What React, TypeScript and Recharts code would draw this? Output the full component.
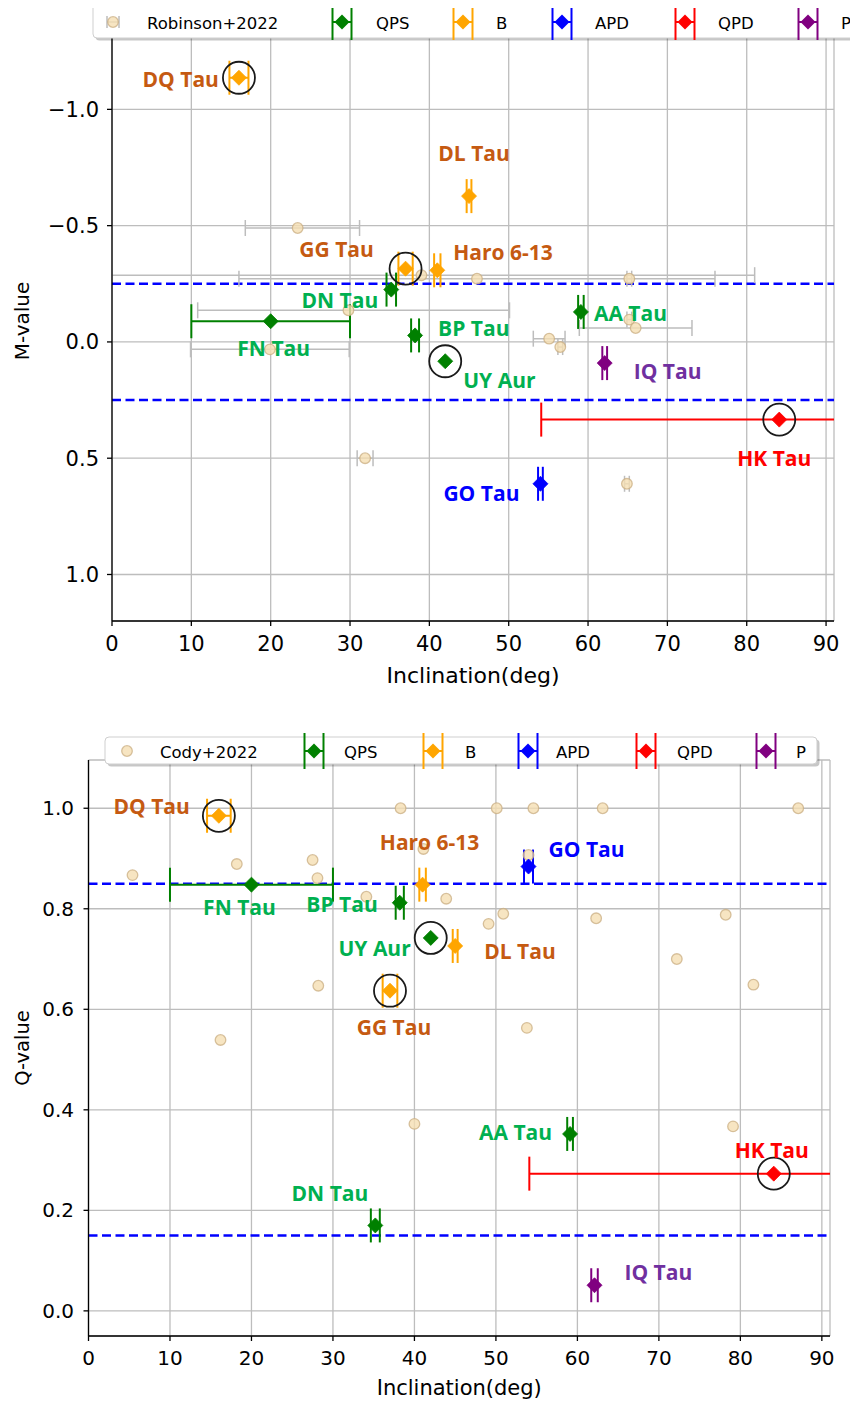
import React from 'react';
import { ScatterChart, Scatter, XAxis, YAxis, CartesianGrid, ReferenceLine, ErrorBar, Label } from 'recharts';

// ---------------- Data ----------------
const STARS = ['DQ Tau', 'DL Tau', 'GG Tau', 'Haro 6-13', 'DN Tau', 'FN Tau', 'BP Tau', 'UY Aur', 'AA Tau', 'IQ Tau', 'HK Tau', 'GO Tau'];
const STAR_CLASS = ['B', 'B', 'B', 'B', 'QPS', 'QPS', 'QPS', 'QPS', 'QPS', 'P', 'QPD', 'APD'];
const INCLINATION = [16.0, 45.0, 37.0, 41.0, 35.2, 20.0, 38.2, 42.0, 59.1, 62.1, 84.1, 54.0];
const INC_ERR_M = [1.2, 0.3, 0.9, 0.4, 0.6, 10, 0.5, null, 0.35, 0.3, 30, 0.3];
const INC_ERR_Q = [1.45, 0.3, 0.9, 0.4, 0.55, 10, 0.5, null, 0.35, 0.4, 30, 0.55];
const M_VALUE = [-1.136, -0.627, -0.315, -0.308, -0.225, -0.089, -0.028, 0.083, -0.129, 0.091, 0.334, 0.61];
const Q_VALUE = [0.985, 0.726, 0.637, 0.848, 0.17, 0.848, 0.812, 0.742, 0.352, 0.051, 0.273, 0.884];
const CIRCLED = ['DQ Tau', 'GG Tau', 'UY Aur', 'HK Tau'];

// Robinson+2022 (M-value sample)
const ROB_INC = [23.4, 39.0, 46.0, 65.2, 29.8, 19.9, 55.1, 56.5, 65.2, 66.0, 31.9, 64.9];
const ROB_M = [-0.49, -0.287, -0.272, -0.272, -0.136, 0.032, -0.014, 0.022, -0.096, -0.06, 0.5, 0.61];
const ROB_ERR_LO = [6.6, 42, 30, 0.3, 19.0, 10, 2, 0.3, 0.3, 7.1, 1, 0.3];
const ROB_ERR_HI = [7.8, 42, 30, 0.3, 20.3, 10, 2, 0.3, 0.3, 7.1, 1, 0.3];

// Cody+2022 (Q-value sample)
const CODY_INC = [5.4, 18.2, 27.5, 28.1, 34.1, 38.3, 41.1, 43.9, 28.2, 16.2, 50.1, 54.6, 63.1, 87.1, 49.1, 50.9, 62.3, 78.2, 72.2, 81.6, 53.8, 54.0, 40.0, 79.1];
const CODY_Q = [0.867, 0.889, 0.897, 0.861, 0.824, 1.0, 0.919, 0.82, 0.647, 0.539, 1.0, 1.0, 1.0, 1.0, 0.77, 0.79, 0.781, 0.788, 0.7, 0.649, 0.563, 0.907, 0.372, 0.367];

const CLASSES = ['QPS', 'B', 'APD', 'QPD', 'P'];
const X_TICKS = [0, 10, 20, 30, 40, 50, 60, 70, 80, 90];
const M_TICKS = [-1, -0.5, 0, 0.5, 1];
const Q_TICKS = [0, 0.2, 0.4, 0.6, 0.8, 1.0];
const M_THRESHOLDS = [-0.25, 0.25];
const Q_THRESHOLDS = [0.85, 0.15];

// ---------------- Styles / layout ----------------
const MARKER_COLORS: Record<string, string> = { QPS: '#008000', B: '#FFA500', APD: '#0000FF', QPD: '#FF0000', P: '#800080' };
const LABEL_COLORS: Record<string, string> = { QPS: '#00B050', B: '#C55A11', APD: '#0000FF', QPD: '#FF0000', P: '#7030A0' };
const FONT_AXIS = "'DejaVu Sans', sans-serif";
const FONT_ANN = "'Open Sans', sans-serif";

// label offsets (px) relative to each point: [dx, dy, anchor]
const LABEL_POS_M: Record<string, [number, number, string]> = {
  'DQ Tau': [-20, 1, 'end'], 'DL Tau': [5, -43, 'middle'], 'GG Tau': [-69, -20, 'middle'],
  'Haro 6-13': [16, -18, 'start'], 'DN Tau': [-13, 10, 'end'], 'FN Tau': [3, 27, 'middle'],
  'BP Tau': [23, -7, 'start'], 'UY Aur': [18, 19, 'start'], 'AA Tau': [13, 1, 'start'],
  'IQ Tau': [29, 8, 'start'], 'HK Tau': [-5, 38, 'middle'], 'GO Tau': [-21, 9, 'end'],
};
const LABEL_POS_Q: Record<string, [number, number, string]> = {
  'DQ Tau': [-29, -10, 'end'], 'DL Tau': [29, 5, 'start'], 'GG Tau': [4, 36, 'middle'],
  'Haro 6-13': [7, -43, 'middle'], 'DN Tau': [-7, -32, 'end'], 'FN Tau': [-12, 22, 'middle'],
  'BP Tau': [-22, 1, 'end'], 'UY Aur': [-20, 10, 'end'], 'AA Tau': [-18, -2, 'end'],
  'IQ Tau': [30, -13, 'start'], 'HK Tau': [-2, -24, 'middle'], 'GO Tau': [20, -18, 'start'],
};

type Pt = { name: string; cls: string; x: number; y: number; ex: number | null };

const mPoints: Pt[] = STARS.map((name, i) => ({ name, cls: STAR_CLASS[i], x: INCLINATION[i], y: M_VALUE[i], ex: INC_ERR_M[i] }));
const qPoints: Pt[] = STARS.map((name, i) => ({ name, cls: STAR_CLASS[i], x: INCLINATION[i], y: Q_VALUE[i], ex: INC_ERR_Q[i] }));
const robPoints = ROB_INC.map((x, i) => ({ x, y: ROB_M[i], ex: [ROB_ERR_LO[i], ROB_ERR_HI[i]] }));
const codyPoints = CODY_INC.map((x, i) => ({ x, y: CODY_Q[i] }));

const DIAMOND_R = 7.5;
const diamondShape = (color: string) => (p: any) => {
  const { cx, cy } = p;
  const r = DIAMOND_R;
  return <path d={`M${cx},${cy - r}L${cx + r},${cy}L${cx},${cy + r}L${cx - r},${cy}Z`} fill={color} stroke={color} strokeWidth={0.8} />;
};
const ringShape = (p: any) => <circle cx={p.cx} cy={p.cy} r={16} fill="none" stroke="#1a1a1a" strokeWidth={1.8} />;
const bgShape = (p: any) => (
  <circle cx={p.cx} cy={p.cy} r={5.3} fill="#F5DEB3" fillOpacity={0.8} stroke="#C9AE82" strokeOpacity={0.75} strokeWidth={1.3} />
);
const labelShape = (pos: Record<string, [number, number, string]>) => (p: any) => {
  const d = p.payload ?? p;
  const o = pos[d.name];
  return (
    <text x={p.cx + o[0]} y={p.cy + o[1]} textAnchor={o[2] as any} dominantBaseline="central"
      fill={LABEL_COLORS[d.cls]} fontFamily={FONT_ANN} fontWeight={700} fontSize={21}>{d.name}</text>
  );
};

const fmtM = (v: number) => (v < 0 ? '\u2212' + Math.abs(v).toFixed(1) : v.toFixed(1));
const fmtQ = (v: number) => v.toFixed(1);

type PanelProps = {
  height: number;
  margin: { top: number; right: number; bottom: number; left: number };
  yAxisWidth: number;
  xAxisHeight: number;
  yDomain: [number, number];
  yTicks: number[];
  reversed: boolean;
  yFmt: (v: number) => string;
  yLabel: string;
  thresholds: number[];
  bg: any[];
  bgErr: boolean;
  main: Pt[];
  labelPos: Record<string, [number, number, string]>;
  tickFont: number;
  xTickMargin: number;
  yTickMargin: number;
  xLabelDy: number;
  xLabelFont: number;
  yLabelFont: number;
  yLabelX: number;
};

function Panel(props: PanelProps) {
  const p = props;
  const axisLine = { stroke: '#000', strokeWidth: 1.3 };
  return (
    <ScatterChart width={858} height={p.height} margin={p.margin}>
      <CartesianGrid stroke="#bdbdbd" strokeWidth={1.3} />
      <XAxis type="number" dataKey="x" domain={[0, 91]} ticks={X_TICKS} interval={0} allowDataOverflow
        height={p.xAxisHeight} tickSize={5} tickMargin={p.xTickMargin} axisLine={axisLine} tickLine={axisLine}
        tick={{ fontSize: p.tickFont, fill: '#000', fontFamily: FONT_AXIS }}>
        <Label content={(lp: any) => {
          const vb = lp.viewBox;
          return (
            <text x={vb.x + vb.width / 2} y={vb.y + p.xLabelDy} textAnchor="middle" dominantBaseline="central"
              fontFamily={FONT_AXIS} fontSize={p.xLabelFont} fill="#000">Inclination(deg)</text>
          );
        }} />
      </XAxis>
      <XAxis xAxisId="top" orientation="top" type="number" domain={[0, 91]} height={0} tick={false} tickLine={false} axisLine={axisLine} />
      <YAxis type="number" dataKey="y" domain={p.yDomain} reversed={p.reversed} ticks={p.yTicks} interval={0} allowDataOverflow
        width={p.yAxisWidth} tickSize={5} tickMargin={p.yTickMargin} axisLine={axisLine} tickLine={axisLine}
        tickFormatter={p.yFmt} tick={{ fontSize: p.tickFont, fill: '#000', fontFamily: FONT_AXIS }}>
        <Label content={(lp: any) => {
          const vb = lp.viewBox;
          const cx = vb.x + p.yLabelX;
          const cy = vb.y + vb.height / 2;
          return (
            <text x={cx} y={cy} transform={`rotate(-90 ${cx} ${cy})`} textAnchor="middle" dominantBaseline="central"
              fontFamily={FONT_AXIS} fontSize={p.yLabelFont} fill="#000">{p.yLabel}</text>
          );
        }} />
      </YAxis>
      <YAxis yAxisId="right" orientation="right" type="number" domain={p.yDomain} width={0} tick={false} tickLine={false} axisLine={axisLine} />
      {p.thresholds.map((v) => (
        <ReferenceLine key={v} y={v} stroke="#0000FF" strokeWidth={2.5} strokeDasharray="9 4.5" />
      ))}
      <Scatter data={p.bg} shape={bgShape} isAnimationActive={false}>
        {p.bgErr ? <ErrorBar dataKey="ex" direction="x" width={8} stroke="#bdbdbd" strokeWidth={1.5} /> : null}
      </Scatter>
      {CLASSES.map((c) => (
        <Scatter key={c} data={p.main.filter((d) => d.cls === c)} shape={diamondShape(MARKER_COLORS[c])} isAnimationActive={false}>
          <ErrorBar dataKey="ex" direction="x" width={17} stroke={MARKER_COLORS[c]} strokeWidth={2} />
        </Scatter>
      ))}
      <Scatter data={p.main.filter((d) => CIRCLED.includes(d.name))} shape={ringShape} isAnimationActive={false} />
      <Scatter data={p.main} shape={labelShape(p.labelPos)} isAnimationActive={false} />
    </ScatterChart>
  );
}

// ---------------- Legends ----------------
type LegendSpec = {
  box: [number, number, number, number];
  cy: number;
  bgName: string;
  bgIconX: number;
  bgTextX: number;
  bgErr: boolean;
  iconX: number[];
  textX: number[];
};
const LEGEND_M: LegendSpec = {
  box: [93, 2, 762, 36], cy: 22, bgName: 'Robinson+2022', bgIconX: 113, bgTextX: 147, bgErr: true,
  iconX: [342, 463, 562, 685, 808], textX: [376, 496, 595, 718, 841],
};
const LEGEND_Q: LegendSpec = {
  box: [105, 737, 712, 27], cy: 751, bgName: 'Cody+2022', bgIconX: 127, bgTextX: 160, bgErr: false,
  iconX: [314, 433, 528, 646, 766], textX: [344, 465, 556, 677, 796],
};

function LegendGroup({ s }: { s: LegendSpec }) {
  const [bx, by, bw, bh] = s.box;
  const cy = s.cy;
  const textProps = { fontFamily: FONT_AXIS, fontSize: 16.5, fill: '#000', dominantBaseline: 'central' as any };
  return (
    <g>
      <rect x={bx + 2.5} y={by + 2.5} width={bw} height={bh} rx={4} fill="#000" fillOpacity={0.22} />
      <rect x={bx} y={by} width={bw} height={bh} rx={4} fill="#fff" stroke="#cfcfcf" strokeWidth={1} />
      {s.bgErr ? (
        <g stroke="#bdbdbd" strokeWidth={1.5}>
          <line x1={s.bgIconX - 6} y1={cy} x2={s.bgIconX + 6} y2={cy} />
          <line x1={s.bgIconX - 6} y1={cy - 6} x2={s.bgIconX - 6} y2={cy + 6} />
          <line x1={s.bgIconX + 6} y1={cy - 6} x2={s.bgIconX + 6} y2={cy + 6} />
        </g>
      ) : null}
      <circle cx={s.bgIconX} cy={cy} r={5.3} fill="#F5DEB3" fillOpacity={0.8} stroke="#C9AE82" strokeOpacity={0.75} strokeWidth={1.3} />
      <text x={s.bgTextX} y={cy + 1} {...textProps}>{s.bgName}</text>
      {CLASSES.map((c, i) => {
        const x = s.iconX[i];
        const col = MARKER_COLORS[c];
        const r = DIAMOND_R;
        return (
          <g key={c}>
            <line x1={x - 9.5} y1={cy} x2={x + 9.5} y2={cy} stroke={col} strokeWidth={2} />
            <line x1={x - 9.5} y1={cy - 18} x2={x - 9.5} y2={cy + 18} stroke={col} strokeWidth={2} />
            <line x1={x + 9.5} y1={cy - 18} x2={x + 9.5} y2={cy + 18} stroke={col} strokeWidth={2} />
            <path d={`M${x},${cy - r}L${x + r},${cy}L${x},${cy + r}L${x - r},${cy}Z`} fill={col} />
            <text x={s.textX[i]} y={cy + 1} {...textProps}>{c}</text>
          </g>
        );
      })}
    </g>
  );
}

const CLIP_CSS = `
.panelM g[class*="recharts-errorBar"] { clip-path: url(#plotClipM); }
.panelQ g[class*="recharts-errorBar"] { clip-path: url(#plotClipQ); }
`;

export default function App() {
  return (
    <div style={{ position: 'relative', width: 858, height: 1402, margin: '-8px 0 0 -8px', background: '#fff', overflow: 'hidden' }}>
      <style>{CLIP_CSS}</style>
      <svg width={0} height={0} style={{ position: 'absolute', left: 0, top: 0 }}>
        <defs>
          <clipPath id="plotClipM" clipPathUnits="userSpaceOnUse">
            <rect x={112} y={21} width={722} height={600} />
          </clipPath>
          <clipPath id="plotClipQ" clipPathUnits="userSpaceOnUse">
            <rect x={88.5} y={60} width={741.5} height={576} />
          </clipPath>
        </defs>
      </svg>
      <div className="panelM" style={{ position: 'absolute', left: 0, top: 0 }}>
        <Panel
          height={700}
          margin={{ top: 21, right: 24, bottom: 0, left: 0 }}
          yAxisWidth={112}
          xAxisHeight={79}
          yDomain={[-1.38, 1.2]}
          yTicks={M_TICKS}
          reversed
          yFmt={fmtM}
          yLabel="M-value"
          thresholds={M_THRESHOLDS}
          bg={robPoints}
          bgErr
          main={mPoints}
          labelPos={LABEL_POS_M}
          tickFont={21}
          xTickMargin={10.5}
          yTickMargin={8}
          xLabelDy={54.6}
          xLabelFont={22}
          yLabelFont={20}
          yLabelX={22}
        />
      </div>
      <div className="panelQ" style={{ position: 'absolute', left: 0, top: 700 }}>
        <Panel
          height={702}
          margin={{ top: 60, right: 28, bottom: 0, left: 0 }}
          yAxisWidth={88.5}
          xAxisHeight={66}
          yDomain={[-0.05, 1.096]}
          yTicks={Q_TICKS}
          reversed={false}
          yFmt={fmtQ}
          yLabel="Q-value"
          thresholds={Q_THRESHOLDS}
          bg={codyPoints}
          bgErr={false}
          main={qPoints}
          labelPos={LABEL_POS_Q}
          tickFont={20}
          xTickMargin={9.5}
          yTickMargin={9.5}
          xLabelDy={51.6}
          xLabelFont={21}
          yLabelFont={19.5}
          yLabelX={22}
        />
      </div>
      <svg width={858} height={1402} style={{ position: 'absolute', left: 0, top: 0, pointerEvents: 'none' }}>
        <LegendGroup s={LEGEND_M} />
        <LegendGroup s={LEGEND_Q} />
      </svg>
    </div>
  );
}
